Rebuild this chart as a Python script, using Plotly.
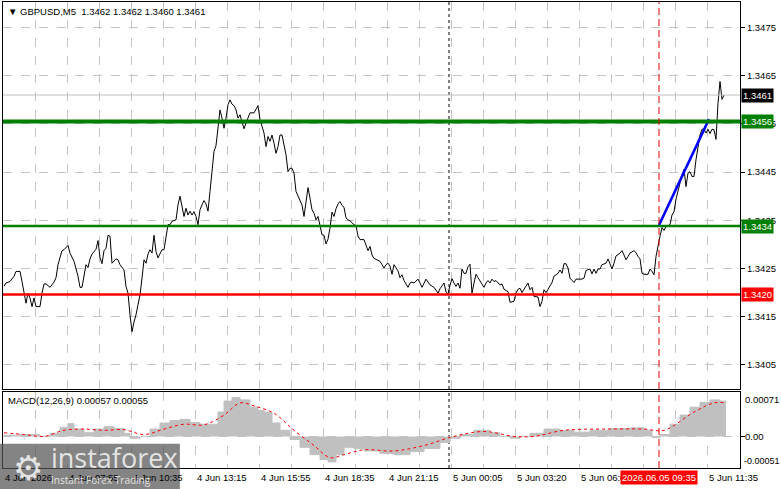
import plotly.graph_objects as go

# ---------------- data ----------------
bar_idx = [0,1,3,5,6,8,9,11,12,13,14,15,16,18,19,20,21,23,25,26,27,29,30,32,33,35,37,38,39,41,42,43,44,46,47,48,49,50,51,52,53,54,56,57,58,60,61,62,63,64,65,66,67,68,69,70,71,72,73,74,75,76,77,78,79,80,81,82,83,84,86,87,88,89,90,91,92,93,94,95,96,97,98,99,100,101,102,103,104,105,106,107,108,109,110,111,112,113,114,115,116,117,118,119,120,121,122,
           123,125,127,128,129,130,131,132,133,134,135,136,137,138,139,140,141,142,143,144,145,146,147,148,149,150,151,152,153,154,155,156,157,158,159,160,161,162,163,164,165,166,167,168,169,170,171,172,173,175,176,177,178,180,181,182,183,184,185,186,188,189,190,191,192,193,194,195,196,197,198,199,200,202,203,204,205,207,208,209,211,212,213,215,216,217,218,220,221,222,223,224,225,226,227,228,229,230,231,232,233,234,235,236,237,238,239,240,241,242,243,
           244,245,246,248,249,250,252,253,255,256,257,258,259,260,261,262,263,264,265,267,268,269,270,271,272,273,274,275,277,278,279,280,281,282,283,285,286,287,289,290,291,293,294,295,296,297,298,299,301,302,303,304,305,306,308,309,310,311,312,313,315,316,317,318,319,320,322,323,324,325,326,327,328,329,330,331,332,333,334,335,336,337,338,339,340,341,342,343,344,345,346,347,348,349,350,351,352,353,354,355,356,357,358,359,360]
close = [1.34213,1.34220,1.34223,1.34234,1.34244,1.34244,1.34223,1.34178,1.34199,1.34189,1.34171,1.34189,1.34171,1.34171,1.34199,1.34218,1.34218,1.34211,1.34222,1.34231,1.34258,1.34287,1.34289,1.34298,1.34282,1.34265,1.34234,1.34211,1.34211,1.34258,1.34252,1.34270,1.34280,1.34290,1.34308,1.34273,1.34260,1.34287,1.34292,1.34319,1.34317,1.34261,1.34270,1.34268,1.34258,1.34247,1.34213,1.34199,1.34154,1.34119,1.34139,1.34154,1.34175,1.34195,1.34230,1.34268,1.34261,1.34280,1.34289,1.34282,1.34319,1.34285,1.34272,1.34282,1.34289,1.34289,1.34320,1.34341,1.34341,1.34348,1.34351,1.34382,1.34400,1.34375,1.34358,1.34375,1.34361,1.34369,1.34361,1.34368,1.34358,1.34341,1.34372,1.34382,1.34391,1.34384,1.34369,1.34410,1.34458,1.34493,1.34505,1.34545,1.34579,1.34562,1.34541,1.34562,1.34590,1.34600,1.34591,1.34588,1.34579,1.34562,1.34569,1.34554,1.34540,1.34552,1.34565,
         1.34573,1.34573,1.34588,1.34559,1.34547,1.34531,1.34503,1.34524,1.34514,1.34527,1.34510,1.34489,1.34503,1.34527,1.34527,1.34503,1.34486,1.34451,1.34458,1.34458,1.34448,1.34410,1.34400,1.34389,1.34382,1.34358,1.34389,1.34418,1.34396,1.34372,1.34365,1.34351,1.34358,1.34341,1.34320,1.34319,1.34301,1.34311,1.34334,1.34367,1.34358,1.34374,1.34384,1.34389,1.34381,1.34377,1.34355,1.34351,1.34349,1.34341,1.34339,1.34317,1.34310,1.34310,1.34296,1.34287,1.34296,1.34278,1.34271,1.34269,1.34265,1.34258,1.34251,1.34258,1.34261,1.34255,1.34238,1.34258,1.34251,1.34245,1.34231,1.34237,1.34225,1.34211,1.34220,1.34222,1.34220,1.34228,1.34220,1.34211,1.34228,1.34223,1.34216,1.34211,1.34204,1.34199,1.34208,1.34220,1.34201,1.34197,1.34215,1.34229,1.34220,1.34213,1.34220,1.34209,1.34249,1.34240,1.34240,1.34254,1.34259,1.34199,1.34220,1.34238,1.34231,1.34224,1.34217,1.34211,1.34220,1.34225,1.34220,
         1.34228,1.34223,1.34225,1.34216,1.34218,1.34207,1.34202,1.34180,1.34182,1.34199,1.34207,1.34209,1.34200,1.34207,1.34214,1.34220,1.34206,1.34211,1.34192,1.34191,1.34171,1.34182,1.34206,1.34200,1.34207,1.34213,1.34221,1.34234,1.34240,1.34247,1.34240,1.34260,1.34260,1.34251,1.34230,1.34221,1.34228,1.34228,1.34228,1.34230,1.34246,1.34249,1.34239,1.34249,1.34240,1.34249,1.34249,1.34258,1.34261,1.34270,1.34260,1.34249,1.34261,1.34276,1.34282,1.34287,1.34278,1.34268,1.34275,1.34282,1.34287,1.34283,1.34275,1.34270,1.34240,1.34238,1.34238,1.34249,1.34244,1.34237,1.34275,1.34299,1.34317,1.34335,1.34329,1.34337,1.34339,1.34341,1.34361,1.34368,1.34394,1.34410,1.34431,1.34444,1.34456,1.34420,1.34448,1.34451,1.34441,1.34441,1.34476,1.34507,1.34527,1.34539,1.34539,1.34531,1.34539,1.34530,1.34539,1.34538,1.34518,1.34593,1.34638,1.34601,1.34610]

macd_idx = [0,8,18,23,28,32,35,40,45,50,55,60,63,68,73,78,83,88,93,98,103,107,110,114,118,123,127,130,134,138,143,148,153,158,162,166,170,175,180,188,195,203,210,218,223,228,235,243,248,253,258,263,270,278,285,293,303,313,320,324,328,333,338,343,348,353,358,361]
macd_hist = [0.00002,0.00003,0.0,0.00005,0.00015,0.00021,0.00012,0.00006,0.00012,0.00016,0.00013,0.00005,-0.00003,0.0,0.00012,0.00022,0.00026,0.00028,0.00023,0.00020,0.00020,0.00040,0.00058,0.00064,0.00060,0.00048,0.00043,0.00040,0.00022,0.00010,-0.00005,-0.00018,-0.00030,-0.00038,-0.00042,-0.00030,-0.00018,-0.00020,-0.00024,-0.00028,-0.00030,-0.00025,-0.00020,-0.00010,-0.00003,0.00003,0.00010,0.00006,0.0,-0.00003,0.0,0.00005,0.00012,0.00010,0.00007,0.00010,0.00013,0.00014,0.00010,-0.00002,0.00003,0.00020,0.00035,0.00048,0.00056,0.00060,0.00058,0.00057]
signal_idx = [0,10,20,30,40,50,60,70,80,90,100,110,118,125,135,145,155,163,170,180,195,210,225,240,255,265,280,300,320,330,345,355,361]
signal_val = [0.00006,0.00003,0.0,0.00010,0.00012,0.00010,0.00011,0.00003,0.00012,0.00020,0.00019,0.00035,0.00055,0.00050,0.00038,0.00010,-0.00015,-0.00035,-0.00030,-0.00022,-0.00024,-0.00015,0.0,0.00008,0.0,0.0,0.00010,0.00012,0.00012,0.00010,0.00040,0.00055,0.00055]

level_res, level_mid, level_sup = 1.34555, 1.34338, 1.34196
label_res, label_mid, label_sup = "1.3456", "1.3434", "1.3420"
last_price = 1.3461
trend_x = [327.5, 352.5]
trend_y = [1.3434, 1.3456]
signal_bar = 327.5
day_sep_bar = 222.5

price_ticks = [1.3405, 1.3415, 1.3425, 1.3435, 1.3445, 1.3455, 1.3465, 1.3475]
xlabel_pos = [-0.5, 31.5, 63.5, 95.5, 127.5, 159.5, 191.5, 223.5, 255.5, 287.5, 351.5]
xlabel_txt = ["4 Jun 2026", "4 Jun 07:55", "4 Jun 10:35", "4 Jun 13:15", "4 Jun 15:55",
              "4 Jun 18:35", "4 Jun 21:15", "5 Jun 00:05", "5 Jun 03:20", "5 Jun 06:00", "5 Jun 11:35"]
title_txt = "▼ GBPUSD,M5  1.3462 1.3462 1.3460 1.3461"
macd_txt = "MACD(12,26,9) 0.00057 0.00055"

FONT = "Liberation Sans, Arial, sans-serif"
GRID = "#c4c4c4"
GREEN = "#008000"
RED = "#ff0000"

fig = go.Figure()

fig.add_trace(go.Scatter(x=bar_idx, y=close, mode="lines", line=dict(color="black", width=1),
                         xaxis="x", yaxis="y", hoverinfo="skip"))
fig.add_trace(go.Scatter(x=trend_x, y=trend_y, mode="lines", line=dict(color="#0000ff", width=2.5),
                         xaxis="x", yaxis="y", hoverinfo="skip"))
fig.add_trace(go.Scatter(x=macd_idx, y=macd_hist, mode="lines", fill="tozeroy",
                         fillcolor="#c0c0c0", line=dict(color="#c0c0c0", width=1, shape="hv"),
                         xaxis="x2", yaxis="y2", hoverinfo="skip"))
fig.add_trace(go.Scatter(x=signal_idx, y=signal_val, mode="lines",
                         line=dict(color=RED, width=1, dash="dot", shape="spline"),
                         xaxis="x2", yaxis="y2", hoverinfo="skip"))

shapes = []
shapes.append(dict(type="line", xref="x domain", yref="y", x0=0, x1=1, y0=last_price, y1=last_price,
                   line=dict(color="#c0c0c0", width=1)))
shapes.append(dict(type="line", xref="x domain", yref="y", x0=0, x1=1, y0=level_res, y1=level_res,
                   line=dict(color=GREEN, width=4)))
shapes.append(dict(type="line", xref="x domain", yref="y", x0=0, x1=1, y0=level_mid, y1=level_mid,
                   line=dict(color=GREEN, width=2.5)))
shapes.append(dict(type="line", xref="x domain", yref="y", x0=0, x1=1, y0=level_sup, y1=level_sup,
                   line=dict(color=RED, width=2.5)))
for yr in ["y", "y2"]:
    shapes.append(dict(type="line", xref="x", yref=yr + " domain", x0=signal_bar, x1=signal_bar, y0=0, y1=1,
                       line=dict(color="#e00000", width=1, dash="7px,4px"), layer="above"))
    shapes.append(dict(type="line", xref="x", yref=yr + " domain", x0=day_sep_bar, x1=day_sep_bar, y0=0, y1=1,
                       line=dict(color="black", width=1, dash="dot"), layer="below"))
shapes.append(dict(type="rect", xref="paper", yref="paper", x0=-0.005, x1=0.24, y0=-0.05, y1=0.052,
                   fillcolor="rgba(85,85,85,0.72)", line=dict(width=0), layer="above"))

ann = []
ann.append(dict(text=title_txt, xref="paper", yref="paper", x=0, y=1, xanchor="left", yanchor="top",
                xshift=3, yshift=-2, showarrow=False, font=dict(family=FONT, size=9.5, color="black")))
ann.append(dict(text=macd_txt, xref="paper", yref="y2 domain", x=0, y=1, xanchor="left", yanchor="top",
                xshift=3, yshift=-1, showarrow=False, font=dict(family=FONT, size=9.5, color="black")))

def box(val, bg, txt):
    return dict(text=txt, xref="paper", yref="y", x=1, y=val, xanchor="left", yanchor="middle",
                xshift=1, showarrow=False, bgcolor=bg, borderpad=1,
                font=dict(family=FONT, size=9.5, color="white"))
ann.append(box(last_price, "black", f"{last_price:.4f}"))
ann.append(box(level_res, GREEN, label_res))
ann.append(box(level_mid, GREEN, label_mid))
ann.append(box(level_sup, RED, label_sup))
ann.append(dict(text="0.00071", xref="paper", yref="y2 domain", x=1, y=1, xanchor="left", yanchor="top",
                xshift=3, showarrow=False, font=dict(family=FONT, size=9.5, color="black")))
ann.append(dict(text="0.00", xref="paper", yref="y2", x=1, y=0, xanchor="left", yanchor="middle",
                xshift=3, showarrow=False, font=dict(family=FONT, size=9.5, color="black")))
ann.append(dict(text="-0.00051", xref="paper", yref="y2 domain", x=1, y=0, xanchor="left", yanchor="bottom",
                xshift=2, showarrow=False, font=dict(family=FONT, size=9, color="black")))
for p, t in zip(xlabel_pos, xlabel_txt):
    ann.append(dict(text=t, xref="x", yref="paper", x=p, y=0, xanchor="left", yanchor="top",
                    yshift=-2, showarrow=False, font=dict(family=FONT, size=9.5, color="black")))
ann.append(dict(text="2026.06.05 09:35", xref="x", yref="paper", x=signal_bar, y=0, xanchor="center",
                yanchor="top", yshift=-2, showarrow=False, bgcolor=RED, borderpad=1,
                font=dict(family=FONT, size=9.5, color="white")))
ann.append(dict(text="⚙", xref="paper", yref="paper", x=0.034, y=0.0, xanchor="center", yanchor="middle",
                showarrow=False, font=dict(family="DejaVu Sans", size=34, color="rgba(235,235,235,0.95)")))
ann.append(dict(text="instaforex", xref="paper", yref="paper", x=0.062, y=0.022, xanchor="left",
                yanchor="middle", showarrow=False,
                font=dict(family="Open Sans", size=27, color="rgba(235,235,235,0.95)")))
ann.append(dict(text="Instant Forex Trading", xref="paper", yref="paper", x=0.062, y=-0.026, xanchor="left",
                yanchor="middle", showarrow=False,
                font=dict(family="Open Sans", size=10, color="rgba(235,235,235,0.95)")))

minor_grid = [16 * k - 0.5 for k in range(1, 24)]
axis_common = dict(showline=True, linecolor="black", linewidth=1, mirror=True, zeroline=False)

fig.update_layout(
    width=781, height=489,
    margin=dict(l=3, r=41, t=2, b=21),
    paper_bgcolor="white", plot_bgcolor="white",
    showlegend=False,
    shapes=shapes, annotations=ann,
    xaxis=dict(domain=[0, 1], anchor="y", range=[-0.5, 368], showticklabels=False,
               tickvals=minor_grid, showgrid=True, gridcolor=GRID, griddash="dash", gridwidth=1,
               ticks="", **axis_common),
    xaxis2=dict(domain=[0, 1], anchor="y2", range=[-0.5, 368], matches="x", showticklabels=False,
                tickvals=minor_grid, showgrid=True, gridcolor=GRID, griddash="dash", gridwidth=1,
                ticks="", **axis_common),
    yaxis=dict(domain=[0.1695, 1], anchor="x", side="right", range=[1.34000, 1.34803],
               tickvals=price_ticks, ticktext=[f"{v:.4f}" for v in price_ticks],
               showgrid=True, gridcolor=GRID, griddash="dash", gridwidth=1,
               ticks="outside", ticklen=4, tickcolor="black",
               tickfont=dict(family=FONT, size=9.5, color="black"), **axis_common),
    yaxis2=dict(domain=[0, 0.1631], anchor="x2", side="right", range=[-0.00052, 0.00073],
                tickvals=[0], showticklabels=False, showgrid=True, gridcolor=GRID, griddash="dash",
                ticks="outside", ticklen=4, tickcolor="black", **axis_common),
)

fig.write_html("out.html")
